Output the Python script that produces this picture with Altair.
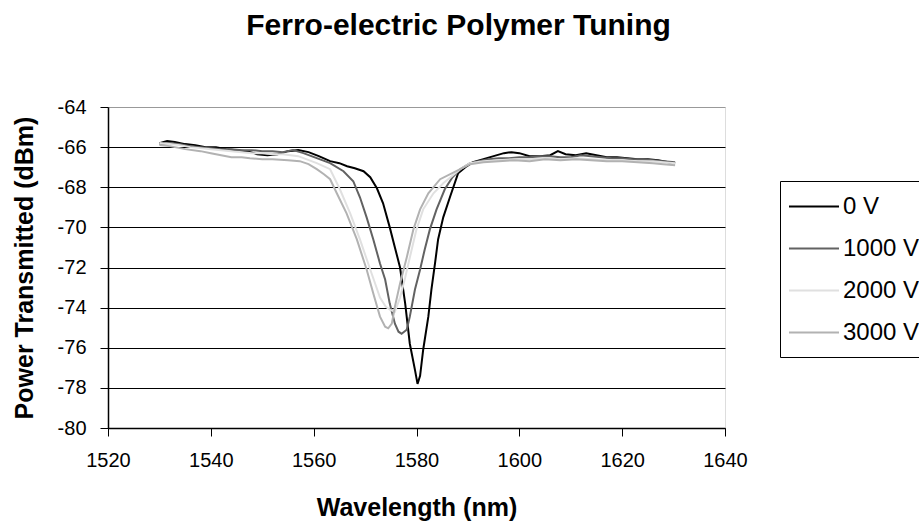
import altair as alt
import pandas as pd

FONT = "Liberation Sans"

series_names = ["0 V", "1000 V", "2000 V", "3000 V"]
series_colors = ["#000000", "#626262", "#e0e0e0", "#b2b2b2"]

x_ticks = [1520, 1540, 1560, 1580, 1600, 1620, 1640]
y_ticks = [-80, -78, -76, -74, -72, -70, -68, -66, -64]

# 0 V
wl_0v = [1530, 1531.5, 1533, 1535, 1537, 1539, 1541, 1543, 1545, 1547,
         1549, 1551, 1553, 1555, 1557, 1559, 1561, 1563.2, 1565, 1566.5,
         1568, 1569.7, 1571, 1572.3, 1573.5, 1574.8, 1575.8, 1576.8, 1577.8, 1578.7,
         1579.7, 1580.2, 1580.7, 1581.3, 1582.3, 1582.9, 1583.6, 1584.2, 1585.2, 1586.5,
         1588.1, 1589.5, 1591, 1593, 1595, 1597, 1598.5, 1600, 1602, 1604,
         1606, 1607.5, 1609, 1611, 1613, 1615, 1617, 1619, 1621, 1623,
         1625, 1627, 1629, 1630.3]
pw_0v = [-65.8, -65.7, -65.75, -65.85, -65.9, -66.0, -66.0, -66.1, -66.15, -66.2,
         -66.35, -66.4, -66.35, -66.2, -66.15, -66.25, -66.45, -66.7, -66.8, -66.95,
         -67.05, -67.2, -67.5, -68.05, -68.8, -70.0, -71.0, -72.0, -73.8, -75.8,
         -77.1, -77.8, -77.4, -76.1, -74.45, -73.1, -71.8, -70.6, -69.5, -68.5,
         -67.3, -67.0, -66.75, -66.6, -66.45, -66.3, -66.25, -66.3, -66.45, -66.45,
         -66.4, -66.2, -66.35, -66.4, -66.3, -66.4, -66.5, -66.5, -66.55, -66.6,
         -66.6, -66.65, -66.75, -66.8]

# 1000 V
wl_1000v = [1530, 1532, 1534, 1536, 1538, 1540, 1542, 1544, 1546, 1548,
            1550, 1552, 1554, 1556, 1558, 1560.6, 1563.2, 1565.8, 1567.7, 1569.0,
            1570.3, 1571.6, 1572.9, 1573.9, 1574.8, 1575.8, 1576.5, 1577.1, 1577.6, 1578.1,
            1578.7, 1579.7, 1580.7, 1581.6, 1582.6, 1583.9, 1585.5, 1587, 1588.5, 1590.4,
            1592, 1594, 1596, 1598, 1600, 1602, 1604, 1606, 1608, 1610,
            1612, 1614, 1616, 1618, 1620, 1622, 1624, 1626, 1628, 1630.3]
pw_1000v = [-65.85, -65.8, -65.85, -65.95, -66.0, -66.05, -66.1, -66.1, -66.15, -66.15,
            -66.2, -66.2, -66.25, -66.15, -66.3, -66.55, -66.8, -67.2, -67.7, -68.5,
            -69.5, -70.6, -71.8, -72.6, -73.8, -74.8, -75.2, -75.3, -75.2, -75.1,
            -74.45, -73.1, -72.1, -71.1, -70.1, -69.1, -68.1, -67.5, -67.1, -66.8,
            -66.7, -66.6, -66.55, -66.55, -66.5, -66.5, -66.45, -66.45, -66.5, -66.5,
            -66.4, -66.45, -66.5, -66.55, -66.55, -66.6, -66.6, -66.65, -66.7, -66.75]

# 2000 V
wl_2000v = [1530, 1532, 1534, 1536, 1538, 1540, 1542, 1544, 1546, 1548,
            1550, 1552, 1554, 1557, 1560.6, 1563.2, 1565.1, 1567.1, 1569.0, 1571.0,
            1572.9, 1574.0, 1574.8, 1575.8, 1576.8, 1577.8, 1578.7, 1580.0, 1581.3, 1583.3,
            1585.2, 1588.5, 1590.4, 1593, 1596, 1599, 1602, 1605, 1608, 1611,
            1614, 1617, 1620, 1623, 1626, 1628, 1630.3]
pw_2000v = [-65.8, -65.85, -65.9, -66.0, -66.05, -66.1, -66.15, -66.2, -66.25, -66.3,
            -66.3, -66.35, -66.35, -66.45, -66.8, -67.1, -68.1, -69.3, -70.6, -72.1,
            -73.5, -73.95, -74.1, -74.2, -73.5, -72.5, -71.5, -70.1, -69.1, -68.3,
            -67.8, -67.1, -66.8, -66.7, -66.65, -66.6, -66.6, -66.55, -66.6, -66.55,
            -66.6, -66.65, -66.65, -66.7, -66.7, -66.75, -66.8]

# 3000 V
wl_3000v = [1530, 1532, 1535, 1538, 1540, 1542, 1544, 1546, 1547.6, 1550,
            1552, 1555, 1557.3, 1559, 1560.6, 1562, 1563.2, 1564.5, 1566.4, 1568.4,
            1570.3, 1571.6, 1572.9, 1573.9, 1574.5, 1575.2, 1575.8, 1576.8, 1578.1, 1579.4,
            1580.7, 1582.3, 1584.6, 1588.5, 1590.4, 1593, 1596, 1599, 1602, 1605,
            1608, 1611, 1614, 1617, 1620, 1623, 1626, 1628, 1630.3]
pw_3000v = [-65.9, -65.95, -66.1, -66.2, -66.3, -66.4, -66.5, -66.5, -66.55, -66.6,
            -66.6, -66.65, -66.7, -66.85, -67.1, -67.35, -67.6, -68.3, -69.3, -70.6,
            -72.1, -73.3, -74.45, -74.95, -75.03, -74.8, -73.95, -72.8, -71.5, -70.1,
            -69.1, -68.3, -67.6, -67.1, -66.85, -66.75, -66.7, -66.65, -66.7, -66.6,
            -66.65, -66.6, -66.65, -66.7, -66.7, -66.75, -66.8, -66.85, -66.9]

rows = []
for name, wl, pw in zip(series_names,
                        [wl_0v, wl_1000v, wl_2000v, wl_3000v],
                        [pw_0v, pw_1000v, pw_2000v, pw_3000v]):
    for i, (a, b) in enumerate(zip(wl, pw)):
        rows.append({"series": name, "wl": a, "pw": b, "idx": i})
df = pd.DataFrame(rows)

chart = alt.Chart(df).mark_line(strokeWidth=2, clip=True).encode(
    x=alt.X("wl:Q",
            scale=alt.Scale(domain=[1520, 1640], nice=False, zero=False),
            axis=alt.Axis(values=x_ticks, title="Wavelength (nm)", grid=False,
                          labelExpr="'' + datum.value",
                          domainColor="#000000", domainWidth=1.5,
                          tickColor="#000000", tickSize=8, tickWidth=1,
                          labelFont=FONT, labelFontSize=20, labelColor="#000000",
                          labelPadding=14, labelFlush=False,
                          titleFont=FONT, titleFontSize=25, titleFontWeight="bold",
                          titleColor="#000000", titlePadding=25)),
    y=alt.Y("pw:Q",
            scale=alt.Scale(domain=[-80, -64], nice=False, zero=False),
            axis=alt.Axis(values=y_ticks, title="Power Transmitted (dBm)", grid=True,
                          gridColor={"condition": {"test": "datum.value === -64", "value": "#999999"},
                                     "value": "#000000"},
                          gridWidth=1,
                          labelExpr="'' + datum.value",
                          domainColor="#000000", domainWidth=1.5,
                          tickColor="#000000", tickSize=8, tickWidth=1,
                          labelFont=FONT, labelFontSize=20, labelColor="#000000",
                          labelPadding=14, labelFlush=False,
                          titleFont=FONT, titleFontSize=25, titleFontWeight="bold",
                          titleColor="#000000", titlePadding=20)),
    color=alt.Color("series:N",
                    scale=alt.Scale(domain=series_names, range=series_colors),
                    legend=alt.Legend(title=None, orient="none", legendX=672, legendY=74,
                                      strokeColor="#000000", fillColor="#ffffff",
                                      padding=12, symbolType="M-1.32,0H2.68",
                                      symbolSize=625, symbolStrokeWidth=2,
                                      labelFont=FONT, labelFontSize=24, labelColor="#000000",
                                      labelOffset=24, rowPadding=16)),
    order=alt.Order("idx:Q"),
).properties(
    width=617,
    height=321,
    title=alt.TitleParams("Ferro-electric Polymer Tuning", font=FONT, fontSize=30,
                          fontWeight="bold", color="#000000", anchor="middle",
                          dx=42, offset=56),
    padding={"left": 108, "top": 107, "right": 194, "bottom": 99},
    autosize=alt.AutoSizeParams(type="none"),
).configure_view(
    stroke="#999999", strokeWidth=2
).configure(background="#ffffff")

chart.save("out.html", embed_options={"renderer": "svg", "actions": False})
